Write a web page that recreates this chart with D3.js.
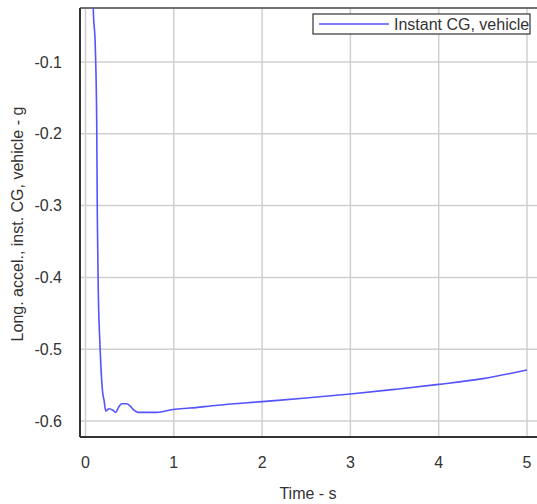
<!DOCTYPE html>
<html><head><meta charset="utf-8">
<script src="https://cdn.jsdelivr.net/npm/d3@7"></script>
<style>body{margin:0;background:#fff}svg{display:block}text{font-family:"Liberation Sans",Arial,sans-serif;fill:#333}</style>
</head><body><svg id="c" width="537" height="504"></svg>
<script>
const xTicks=[0,1,2,3,4,5];
const yTicks=[-0.1,-0.2,-0.3,-0.4,-0.5,-0.6];
const yTickLabels=["-0.1","-0.2","-0.3","-0.4","-0.5","-0.6"];
const time=[0.082,0.088,0.111,0.127,0.134,0.145,0.164,0.195,0.210,0.229,0.266,0.311,0.342,0.374,0.410,0.467,0.504,0.549,0.595,0.806,0.991,1.18,1.5,2.0,2.5,3.0,3.5,4.0,4.5,5.0];
const accel=[0.02,-0.025,-0.079,-0.185,-0.316,-0.420,-0.494,-0.561,-0.571,-0.586,-0.583,-0.585,-0.588,-0.581,-0.576,-0.576,-0.579,-0.585,-0.588,-0.588,-0.584,-0.582,-0.578,-0.573,-0.568,-0.5625,-0.556,-0.549,-0.541,-0.529];
const seriesName="Instant CG, vehicle";
const xTitle="Time - s";
const yTitle="Long. accel., inst. CG, vehicle - g";

const svg=d3.select("#c");
const x=d3.scaleLinear().domain([0,5]).range([85.5,527]);
const y=d3.scaleLinear().domain([-0.1,-0.6]).range([62,421]);
const L=80,T=8,R=545,B=437;

svg.append("defs").append("clipPath").attr("id","clip").append("rect").attr("x",L).attr("y",T).attr("width",R-L).attr("height",B-T);

// grid
svg.append("g").selectAll("line").data(xTicks).join("line")
 .attr("x1",d=>x(d)).attr("x2",d=>x(d)).attr("y1",T).attr("y2",B)
 .attr("stroke","#d0d0d0").attr("stroke-width",1.5);
svg.append("g").selectAll("line").data(yTicks).join("line")
 .attr("y1",d=>y(d)).attr("y2",d=>y(d)).attr("x1",L).attr("x2",R)
 .attr("stroke","#d0d0d0").attr("stroke-width",1.5);

// frame
svg.append("line").attr("x1",L).attr("x2",R).attr("y1",T).attr("y2",T).attr("stroke","#444").attr("stroke-width",1.5);
svg.append("line").attr("x1",L).attr("x2",L).attr("y1",T).attr("y2",B).attr("stroke","#333").attr("stroke-width",2);
svg.append("line").attr("x1",L).attr("x2",R).attr("y1",B).attr("y2",B).attr("stroke","#333").attr("stroke-width",2);

// line
const line=d3.line().x((d,i)=>x(time[i])).y(d=>y(d)).curve(d3.curveMonotoneX);
svg.append("path").datum(accel).attr("clip-path","url(#clip)")
 .attr("d",line).attr("fill","none").attr("stroke","#5353ff").attr("stroke-width",1.6).attr("stroke-linejoin","round");

// tick labels
svg.append("g").selectAll("text").data(xTicks).join("text")
 .attr("x",d=>x(d)).attr("y",468).attr("text-anchor","middle").attr("font-size",16).text(d=>d);
svg.append("g").selectAll("text").data(yTicks).join("text")
 .attr("x",62).attr("y",d=>y(d)+5.5).attr("text-anchor","end").attr("font-size",16).text((d,i)=>yTickLabels[i]);

// titles
svg.append("text").attr("x",308).attr("y",499).attr("text-anchor","middle").attr("font-size",16).text(xTitle);
svg.append("text").attr("transform","translate(23,224) rotate(-90)").attr("text-anchor","middle").attr("font-size",16).text(yTitle);

// legend
const lg=svg.append("g");
lg.append("rect").attr("x",313).attr("y",14).attr("width",217).attr("height",20).attr("fill","#fff").attr("stroke","#333").attr("stroke-width",1.2);
lg.append("line").attr("x1",319).attr("x2",389).attr("y1",24).attr("y2",24).attr("stroke","#5353ff").attr("stroke-width",1.6);
lg.append("text").attr("x",394).attr("y",30).attr("font-size",16).text(seriesName);
</script></body></html>
